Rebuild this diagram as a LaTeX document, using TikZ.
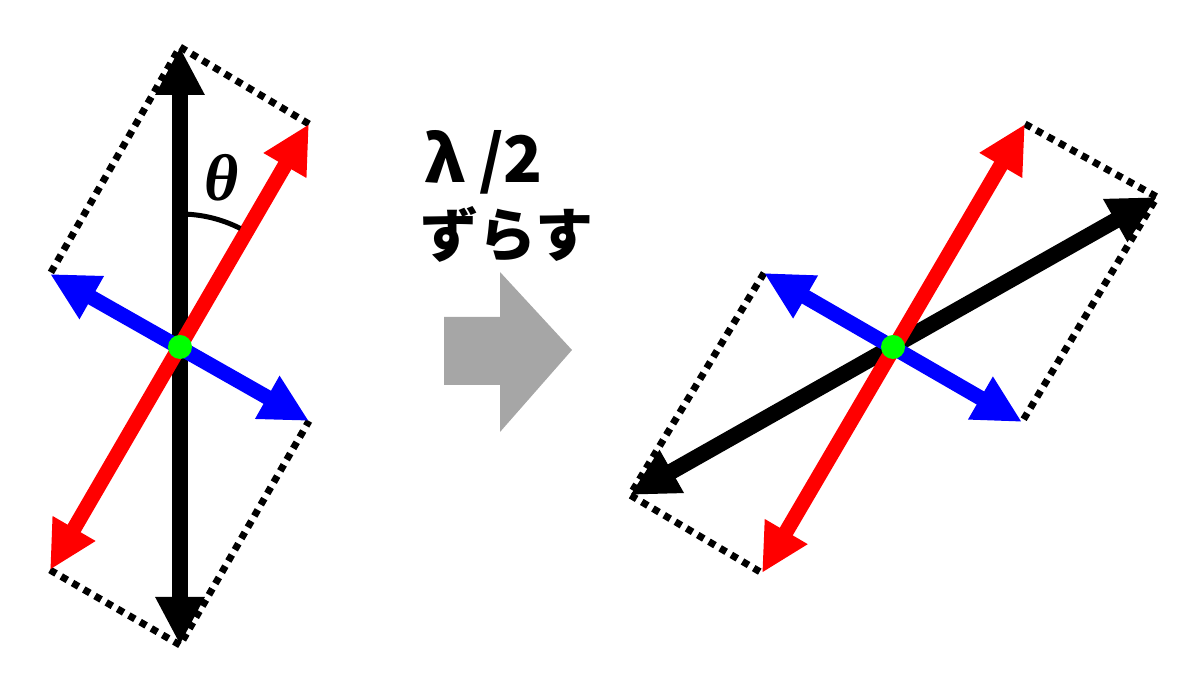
\documentclass[tikz,border=0pt]{standalone}
\usepackage{fontspec}
\newfontfamily\jp{Noto Sans CJK JP}
\newfontfamily\ser{Liberation Serif}
\usetikzlibrary{arrows.meta}
\tikzset{
  vec/.style={line width=#1, {Triangle[length=48pt,width=46pt]}-{Triangle[length=48pt,width=46pt]}},
  dots/.style={line width=7pt, dash pattern=on 7pt off 6pt, line cap=butt},
  dotc/.style={fill=green, draw=none},
  lbl/.style={anchor=base west, inner sep=0pt, font=\jp\bfseries\fontsize{#1}{#1}\selectfont},
}
\begin{document}
\begin{tikzpicture}[x=1pt,y=1pt]
\useasboundingbox (0,0) rectangle (1200,695);
% ---------- left figure ----------
\coordinate (L) at (180,348);
\coordinate (Lkt) at (180,648);
\coordinate (Lkb) at (180,50);
\coordinate (Lrt) at (309,571);
\coordinate (Lrb) at (50,125);
\coordinate (Lbt) at (50,421);
\coordinate (Lbb) at (309,274);
\draw[dots] (Lrt) -- (Lkt) -- (Lbt);
\draw[dots] (Lrb) -- (Lkb) -- (Lbb);
\draw[vec=16pt, black] (Lkt) -- (Lkb);
\draw[vec=15pt, red] (Lrt) -- (Lrb);
\draw[vec=15pt, blue] (Lbt) -- (Lbb);
\fill[dotc] (L) circle (12);
\draw[line width=5pt] (L) ++(90:133) arc (90:63:133);
\node[font=\ser\bfseries\itshape\fontsize{66}{66}\selectfont] (theta) at (222,517) {θ};
% ---------- middle ----------
\node[lbl=64] (lam) at (424,512) {λ\kern14pt/2};
\node[lbl=58] (zurasu) at (420,438) {ずらす};
\fill[gray!70] (444,378) -- (500,378) -- (500,423) -- (572,345) -- (500,263) -- (500,310) -- (444,310) -- cycle;
% ---------- right figure ----------
\coordinate (R) at (893,348);
\coordinate (Rrt) at (1025,571);
\coordinate (Rrb) at (762,122);
\coordinate (Rkt) at (1157,498);
\coordinate (Rkb) at (630,200);
\coordinate (Rbt) at (764,422);
\coordinate (Rbb) at (1022,273);
\draw[dots] (Rrt) -- (Rkt) -- (Rbb);
\draw[dots] (Rbt) -- (Rkb) -- (Rrb);
\draw[vec=16pt, black] (Rkt) -- (Rkb);
\draw[vec=15pt, red] (Rrt) -- (Rrb);
\draw[vec=15pt, blue] (Rbt) -- (Rbb);
\fill[dotc] (R) circle (12);
\end{tikzpicture}
\end{document}
